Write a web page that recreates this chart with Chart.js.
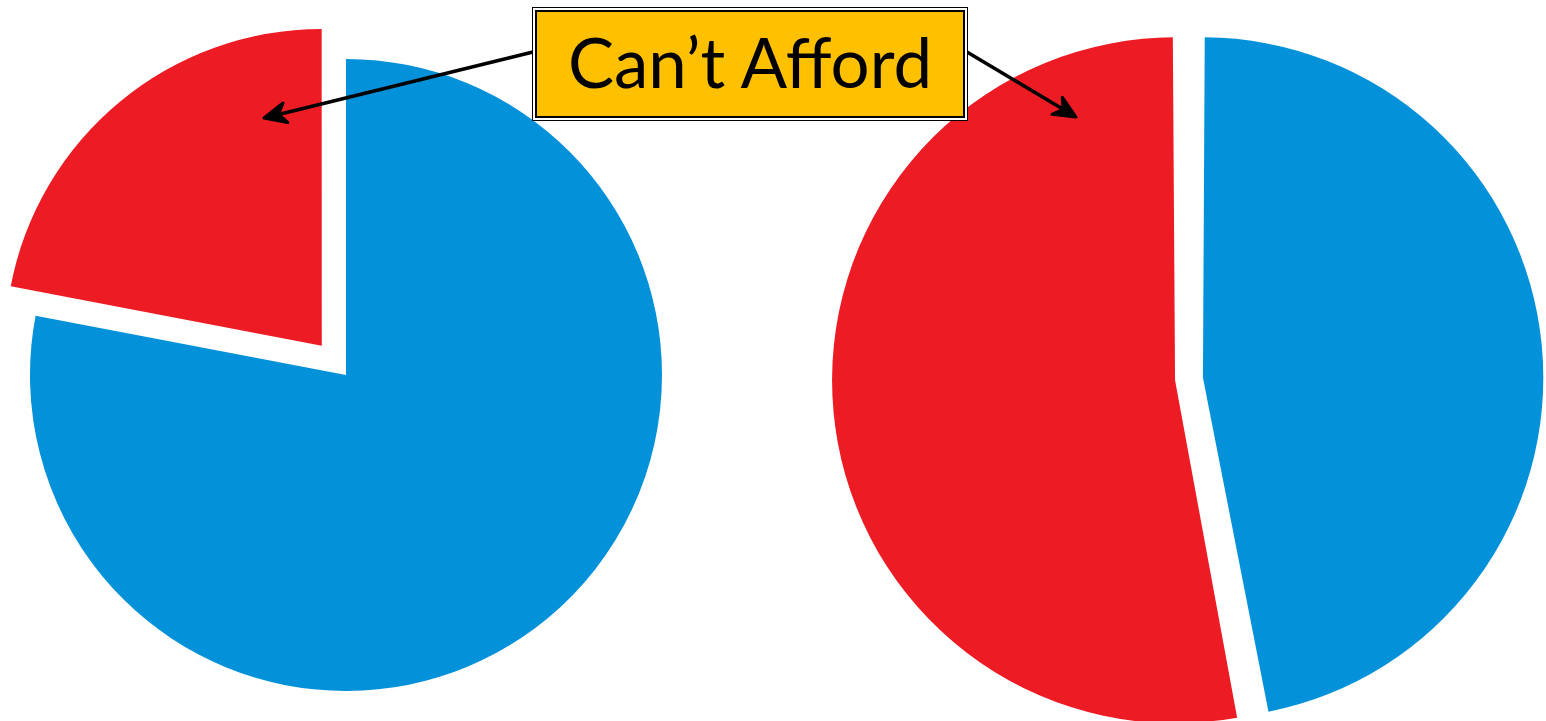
<!DOCTYPE html>
<html>
<head>
<meta charset="utf-8">
<script src="https://cdn.jsdelivr.net/npm/chart.js@4.4.0/dist/chart.umd.min.js"></script>
<style>
  html, body { margin:0; padding:0; width:1546px; height:721px; overflow:hidden; background:#fff; }
  canvas { position:absolute; }
  #left { left:0; top:0; }
  #right { left:819px; top:0; }
  #box { position:absolute; left:532px; top:7px; width:436px; height:114px; box-sizing:border-box;
         border:1px solid #000; background:#fff; padding:2px; z-index:3; }
  #inner { width:100%; height:100%; box-sizing:border-box; border:2px solid #000; background:#FFC000;
           display:flex; align-items:center; justify-content:center;
           font-family: Lato, "Open Sans", sans-serif; font-size:69px; color:#000; line-height:1; padding-bottom:5px; }
  svg { position:absolute; left:0; top:0; z-index:2; }
</style>
</head>
<body>
<canvas id="left" width="692" height="750"></canvas>
<canvas id="right" width="740" height="758"></canvas>
<svg width="1546" height="721"><g id="arrows"></g></svg>
<div id="box"><div id="inner">Can’t Afford</div></div>
<script>
const labels = ["Can Afford", "Can’t Afford"];
const leftValues = [78, 22];
const rightValues = [47, 53];
const colors = ["#0391DA", "#ED1C24"];
const annotationText = "Can’t Afford";

function pie(id, values, offsets, radius) {
  new Chart(document.getElementById(id), {
    type: 'pie',
    data: { labels: labels, datasets: [{ data: values, backgroundColor: colors, borderWidth: 0, offset: offsets }] },
    options: {
      responsive: false, animation: false, radius: radius,
      layout: { padding: 0 },
      plugins: { legend: { display: false }, tooltip: { enabled: false } }
    }
  });
}
pie('left', leftValues, [0, 152], 316);
pie('right', rightValues, [56, 56], 329);

// arrows
function arrow(x1, y1, x2, y2) {
  const g = document.getElementById('arrows');
  const dx = x2 - x1, dy = y2 - y1, L = Math.hypot(dx, dy);
  const ux = dx / L, uy = dy / L, px = -uy, py = ux;
  const hl = 22, hw = 10, notch = 7;
  const bx = x2 - ux * hl, by = y2 - uy * hl;
  const nx = x2 - ux * (hl - notch), ny = y2 - uy * (hl - notch);
  const ns = 'http://www.w3.org/2000/svg';
  const line = document.createElementNS(ns, 'line');
  line.setAttribute('x1', x1); line.setAttribute('y1', y1);
  line.setAttribute('x2', nx); line.setAttribute('y2', ny);
  line.setAttribute('stroke', '#000'); line.setAttribute('stroke-width', 3.5);
  g.appendChild(line);
  const p = document.createElementNS(ns, 'polygon');
  p.setAttribute('points', [
    [x2, y2], [bx + px * hw, by + py * hw], [nx, ny], [bx - px * hw, by - py * hw]
  ].map(a => a.join(',')).join(' '));
  p.setAttribute('fill', '#000'); p.setAttribute('stroke', '#000');
  p.setAttribute('stroke-width', 3); p.setAttribute('stroke-linejoin', 'round');
  g.appendChild(p);
}
arrow(533, 52, 264, 118);
arrow(967, 52, 1076, 117);
</script>
</body>
</html>
